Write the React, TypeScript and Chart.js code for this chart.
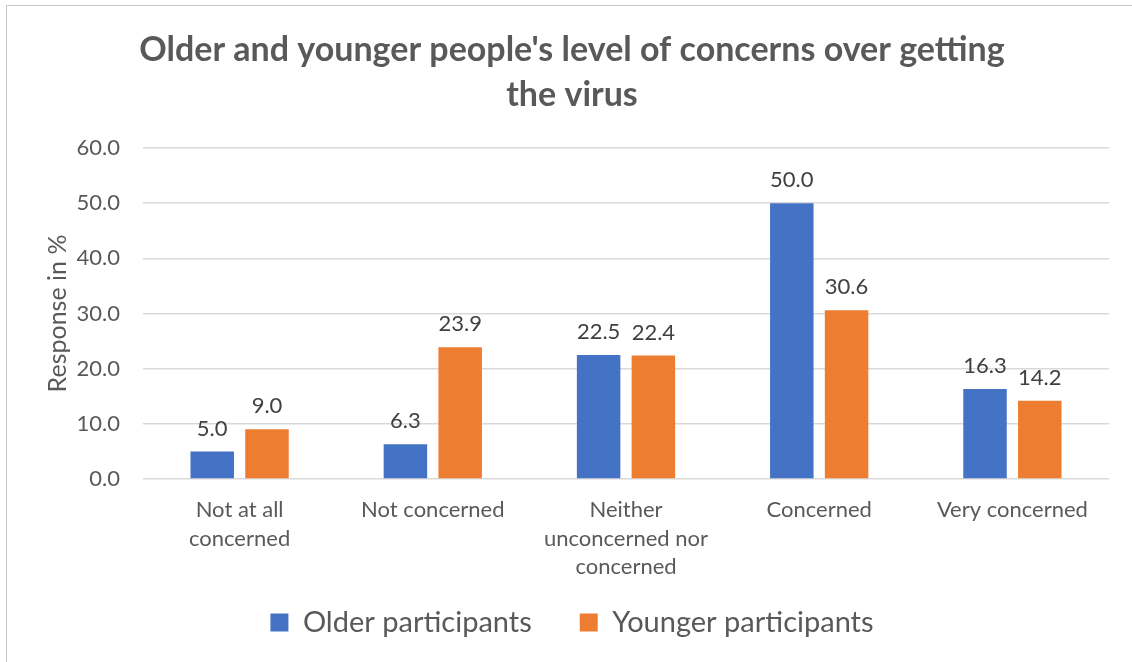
import { useEffect, useRef } from "react";
import { Chart, registerables } from "chart.js";

Chart.register(...registerables);

const FONT = "Lato, 'Open Sans', sans-serif";

const titleLines = [
  "Older and younger people's level of concerns over getting",
  "the virus",
];
const categories: (string | string[])[] = [
  ["Not at all", "concerned"],
  "Not concerned",
  ["Neither", "unconcerned nor", "concerned"],
  "Concerned",
  "Very concerned",
];
const olderValues = [5.0, 6.3, 22.5, 50.0, 16.3];
const youngerValues = [9.0, 23.9, 22.4, 30.6, 14.2];
const seriesNames = ["Older participants", "Younger participants"];
const yAxisTitle = "Response in %";
const yMin = 0;
const yMax = 60;
const yStep = 10;

export default function App() {
  const ref = useRef<HTMLCanvasElement>(null);

  useEffect(() => {
    if (!ref.current) return;
    const dataLabels = {
      id: "dataLabels",
      afterDatasetsDraw(chart: any) {
        const { ctx } = chart;
        ctx.save();
        ctx.font = `22px ${FONT}`;
        ctx.fillStyle = "#404040";
        ctx.textAlign = "center";
        ctx.textBaseline = "middle";
        chart.data.datasets.forEach((ds: any, i: number) => {
          const meta = chart.getDatasetMeta(i);
          meta.data.forEach((el: any, j: number) => {
            ctx.fillText(Number(ds.data[j]).toFixed(1), el.x, el.y - 23);
          });
        });
        ctx.restore();
      },
    };

    const chart = new Chart(ref.current, {
      type: "bar",
      data: {
        labels: categories,
        datasets: [
          {
            label: seriesNames[0],
            data: olderValues,
            backgroundColor: "#4472C4",
            borderWidth: 0,
            categoryPercentage: 0.567,
            barPercentage: 0.794,
          },
          {
            label: seriesNames[1],
            data: youngerValues,
            backgroundColor: "#ED7D31",
            borderWidth: 0,
            categoryPercentage: 0.567,
            barPercentage: 0.794,
          },
        ],
      },
      options: {
        animation: false,
        responsive: false,
        devicePixelRatio: 1,
        layout: { padding: { left: 35, right: 23, top: 0, bottom: 15 } },
        plugins: {
          title: {
            display: true,
            text: titleLines,
            color: "#595959",
            font: { family: FONT, size: 34, weight: "bold", lineHeight: 45 / 34 },
            padding: { top: 27.5, bottom: 30.5 },
          },
          legend: {
            display: true,
            position: "bottom",
            labels: {
              color: "#595959",
              font: { family: FONT, size: 29 },
              boxWidth: 18,
              boxHeight: 18,
              padding: 48,
            },
          },
          tooltip: { enabled: false },
        },
        scales: {
          x: {
            grid: { display: false, drawTicks: false },
            border: { display: false },
            ticks: {
              color: "#595959",
              font: { family: FONT, size: 22, lineHeight: 28.5 / 22 },
              padding: 16.75,
              maxRotation: 0,
              autoSkip: false,
            },
            afterFit(scale: any) {
              scale.height = 81;
              // let the third line of a label run below the axis box
              scale._computeLabelArea = () => undefined;
            },
          },
          y: {
            min: yMin,
            max: yMax,
            grid: { color: "#D9D9D9", lineWidth: 1.5, drawTicks: false },
            border: { display: false },
            ticks: {
              stepSize: yStep,
              color: "#595959",
              font: { family: FONT, size: 22 },
              padding: 23,
              callback: (v: any) => Number(v).toFixed(1),
            },
            title: {
              display: true,
              text: yAxisTitle,
              color: "#595959",
              font: { family: FONT, size: 25 },
              padding: { top: 8, bottom: 0 },
            },
            afterFit(scale: any) {
              scale.width = 108;
            },
          },
        },
      },
      plugins: [dataLabels],
    } as any);

    return () => chart.destroy();
  }, []);

  return (
    <div
      style={{
        position: "fixed",
        left: 0,
        top: 0,
        width: 1132,
        height: 662,
        background: "#fff",
        overflow: "hidden",
      }}
    >
      <div
        style={{
          position: "absolute",
          left: 6,
          top: 5,
          width: 1140,
          height: 680,
          border: "1px solid #c9c9c9",
        }}
      />
      <canvas
        ref={ref}
        width={1132}
        height={662}
        style={{ position: "absolute", left: 0, top: 0 }}
      />
    </div>
  );
}
